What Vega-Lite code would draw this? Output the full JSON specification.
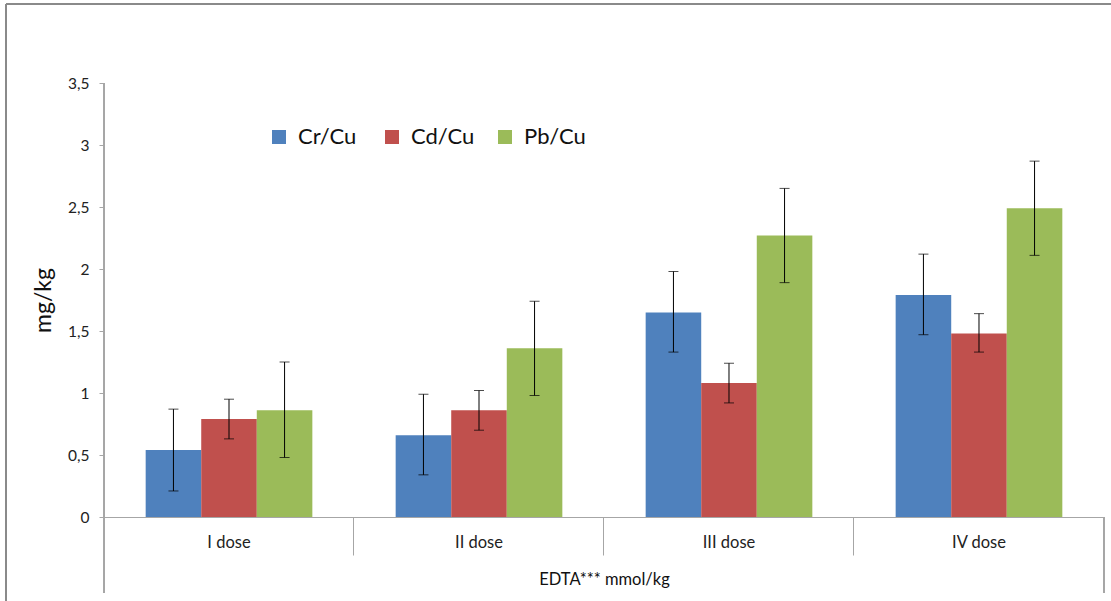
{
  "$schema": "https://vega.github.io/schema/vega-lite/v6.json",
  "width": 1000,
  "height": 434,
  "autosize": {"type": "none"},
  "padding": {"left": 104, "top": 83, "right": 7, "bottom": 84},
  "background": "white",
  "config": {
    "view": {"stroke": null},
    "font": "Lato",
    "axis": {"labelFont": "Lato", "titleFont": "Lato", "labelColor": "#222222", "titleColor": "#111111", "grid": false, "domainColor": "#a6a6a6", "tickColor": "#a6a6a6"},
    "axisY": {
      "values": [0, 0.5, 1, 1.5, 2, 2.5, 3, 3.5],
      "labelExpr": "replace(format(datum.value, ''), '.', ',')",
      "labelFontSize": 15.5, "titleFontSize": 23, "titleFontWeight": "normal",
      "tickSize": 5, "labelPadding": 10, "titlePadding": 12
    }
  },
  "data": {
    "values": [
      {"dose": "I dose", "series": "Cr/Cu", "value": 0.54, "lo": 0.21, "hi": 0.87},
      {"dose": "I dose", "series": "Cd/Cu", "value": 0.79, "lo": 0.63, "hi": 0.95},
      {"dose": "I dose", "series": "Pb/Cu", "value": 0.86, "lo": 0.48, "hi": 1.25},
      {"dose": "II dose", "series": "Cr/Cu", "value": 0.66, "lo": 0.34, "hi": 0.99},
      {"dose": "II dose", "series": "Cd/Cu", "value": 0.86, "lo": 0.70, "hi": 1.02},
      {"dose": "II dose", "series": "Pb/Cu", "value": 1.36, "lo": 0.98, "hi": 1.74},
      {"dose": "III dose", "series": "Cr/Cu", "value": 1.65, "lo": 1.33, "hi": 1.98},
      {"dose": "III dose", "series": "Cd/Cu", "value": 1.08, "lo": 0.92, "hi": 1.24},
      {"dose": "III dose", "series": "Pb/Cu", "value": 2.27, "lo": 1.89, "hi": 2.65},
      {"dose": "IV dose", "series": "Cr/Cu", "value": 1.79, "lo": 1.47, "hi": 2.12},
      {"dose": "IV dose", "series": "Cd/Cu", "value": 1.48, "lo": 1.33, "hi": 1.64},
      {"dose": "IV dose", "series": "Pb/Cu", "value": 2.49, "lo": 2.11, "hi": 2.87}
    ]
  },
  "encoding": {
    "x": {
      "field": "dose", "type": "nominal",
      "sort": ["I dose", "II dose", "III dose", "IV dose"],
      "scale": {"paddingInner": 0.3333, "paddingOuter": 0.1667},
      "axis": {
        "title": "EDTA*** mmol/kg", "labelAngle": 0, "labelFontSize": 16.5, "titleFontSize": 16.5, "titleFontWeight": "normal",
        "bandPosition": -0.25, "tickSize": 38, "labelPadding": -21, "titlePadding": 16
      }
    }
  },
  "layer": [
    {
      "mark": {"type": "bar"},
      "encoding": {
        "xOffset": {"field": "series", "type": "nominal", "sort": ["Cr/Cu", "Cd/Cu", "Pb/Cu"], "scale": {"paddingInner": 0, "paddingOuter": 0}},
        "y": {
          "field": "value", "type": "quantitative",
          "scale": {"domain": [0, 3.5]},
          "axis": {"title": "mg/kg"}
        },
        "color": {
          "field": "series", "type": "nominal",
          "sort": ["Cr/Cu", "Cd/Cu", "Pb/Cu"],
          "scale": {"domain": ["Cr/Cu", "Cd/Cu", "Pb/Cu"], "range": ["#4F81BD", "#C0504D", "#9BBB59"]},
          "legend": {
            "title": null, "orient": "none", "direction": "horizontal", "legendX": 164, "legendY": 43,
            "symbolType": "square", "symbolSize": 196, "symbolStrokeWidth": 0, "labelFontSize": 22, "labelFont": "Lato",
            "labelColor": "#111111", "columnPadding": 19, "gridAlign": "all", "labelOffset": 8
          }
        }
      }
    },
    {
      "mark": {"type": "rule", "color": "black", "strokeWidth": 1},
      "encoding": {
        "xOffset": {"field": "series", "type": "nominal", "sort": ["Cr/Cu", "Cd/Cu", "Pb/Cu"]},
        "y": {"field": "lo", "type": "quantitative", "axis": {"title": "mg/kg"}},
        "y2": {"field": "hi"}
      }
    },
    {
      "mark": {"type": "tick", "color": "black", "thickness": 1, "size": 10},
      "encoding": {
        "xOffset": {"field": "series", "type": "nominal", "sort": ["Cr/Cu", "Cd/Cu", "Pb/Cu"]},
        "y": {"field": "lo", "type": "quantitative", "axis": {"title": "mg/kg"}}
      }
    },
    {
      "mark": {"type": "tick", "color": "black", "thickness": 1, "size": 10},
      "encoding": {
        "xOffset": {"field": "series", "type": "nominal", "sort": ["Cr/Cu", "Cd/Cu", "Pb/Cu"]},
        "y": {"field": "hi", "type": "quantitative", "axis": {"title": "mg/kg"}}
      }
    },
    {
      "mark": {"type": "rule", "color": "#a6a6a6", "strokeWidth": 1, "clip": false},
      "encoding": {
        "x": {"datum": "I dose", "bandPosition": -0.25},
        "y": {"datum": 3.5},
        "y2": {"datum": -0.61}
      }
    },
    {
      "mark": {"type": "rule", "color": "#a6a6a6", "strokeWidth": 1, "clip": false},
      "encoding": {
        "x": {"datum": "IV dose", "bandPosition": 1.25},
        "y": {"datum": 0},
        "y2": {"datum": -0.61}
      }
    },
    {
      "mark": {"type": "rule", "color": "#8a8a8a", "strokeWidth": 2, "clip": false},
      "encoding": {
        "x": {"datum": "I dose", "bandPosition": -0.838},
        "y": {"datum": 4.137},
        "y2": {"datum": -0.8}
      }
    },
    {
      "mark": {"type": "rule", "color": "#8a8a8a", "strokeWidth": 2, "clip": false},
      "encoding": {
        "x": {"datum": "I dose", "bandPosition": -0.838},
        "x2": {"datum": "IV dose", "bandPosition": 1.4},
        "y": {"datum": 4.137}
      }
    }
  ]
}
